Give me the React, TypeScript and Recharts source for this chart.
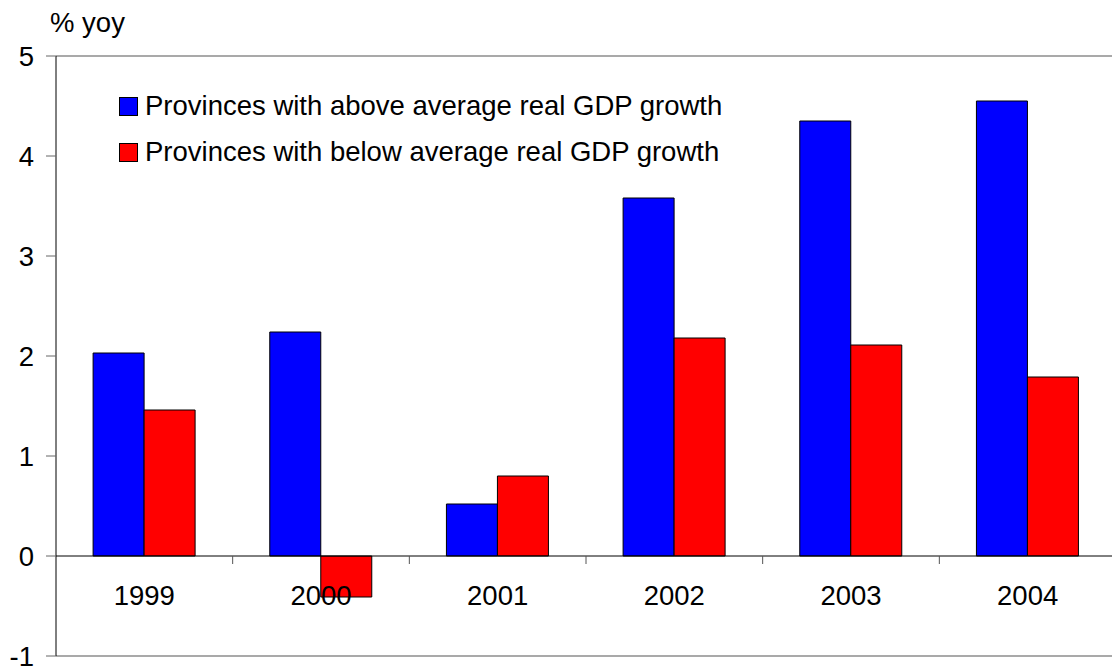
import { BarChart, Bar, XAxis, YAxis, ReferenceLine, Legend, Label } from "recharts";

const years = ["1999", "2000", "2001", "2002", "2003", "2004"];
const aboveAvg = [2.03, 2.24, 0.52, 3.58, 4.35, 4.55];
const belowAvg = [1.46, -0.41, 0.8, 2.18, 2.11, 1.79];
const yTicks = [-1, 0, 1, 2, 3, 4, 5];
const seriesNames = [
  "Provinces with above average real GDP growth",
  "Provinces with below average real GDP growth",
];
const colors = ["#0000ff", "#ff0000"];

const FONT = "Arial, 'Liberation Sans', sans-serif";
const FS = 27.5;

const W = 1130;
const H = 670;
const M = { top: 56, right: 14, bottom: 13, left: 0 };
const Y_AXIS_W = 56;
const X_AXIS_H = 1;
const PLOT_W = W - M.left - M.right - Y_AXIS_W;
const PLOT_H = H - M.top - M.bottom - X_AXIS_H;
const Y_MIN = -1;
const Y_MAX = 5;

const data = years.map((year, i) => ({ year, above: aboveAvg[i], below: belowAvg[i] }));

// x labels and the between-category ticks sit on the zero line, not at the bottom
function XTick({ x, payload }: any) {
  const zeroY = M.top + (PLOT_H * Y_MAX) / (Y_MAX - Y_MIN);
  const band = PLOT_W / years.length;
  return (
    <g>
      <line x1={x + band / 2} x2={x + band / 2} y1={zeroY} y2={zeroY + 8} stroke="#555" />
      <text x={x} y={zeroY + 39} dy="0.355em" textAnchor="middle" fill="#000" fontSize={FS} fontFamily={FONT}>
        {payload.value}
      </text>
    </g>
  );
}

function LegendBox() {
  return (
    <div style={{ fontFamily: FONT, fontSize: FS, color: "#000" }}>
      {seriesNames.map((n, i) => (
        <div key={n} style={{ display: "flex", alignItems: "center", height: 46, whiteSpace: "nowrap" }}>
          <span
            style={{
              display: "inline-block",
              width: 17,
              height: 17,
              background: colors[i],
              border: "1px solid #000",
              marginRight: 7,
            }}
          />
          <span>{n}</span>
        </div>
      ))}
    </div>
  );
}

export default function App() {
  return (
    <div style={{ position: "absolute", left: 0, top: 0, width: 1112, height: 670, overflow: "hidden", background: "#fff" }}>
      <BarChart
        width={W}
        height={H}
        data={data}
        margin={M}
        barCategoryGap="21%"
        barGap={0}
      >
        <YAxis
          type="number"
          domain={[Y_MIN, Y_MAX]}
          ticks={yTicks}
          interval={0}
          width={Y_AXIS_W}
          tickSize={10}
          tickMargin={12}
          axisLine={{ stroke: "#000" }}
          tickLine={{ stroke: "#666" }}
          tick={{ fill: "#000", fontSize: FS, fontFamily: FONT }}
        >
          <Label
            content={({ viewBox }: any) => (
              <text x={viewBox.x + 50} y={viewBox.y - 24} fill="#000" fontSize={FS} fontFamily={FONT}>
                % yoy
              </text>
            )}
          />
        </YAxis>
        <ReferenceLine y={Y_MAX} stroke="#8c8c8c" strokeWidth={1.5} />
        <ReferenceLine y={Y_MIN} stroke="#8c8c8c" strokeWidth={1.5} />
        <Bar dataKey="above" name={seriesNames[0]} fill={colors[0]} stroke="#000" strokeWidth={1} isAnimationActive={false} />
        <Bar dataKey="below" name={seriesNames[1]} fill={colors[1]} stroke="#000" strokeWidth={1} isAnimationActive={false} />
        <ReferenceLine y={0} stroke="#000" />
        <XAxis
          dataKey="year"
          height={X_AXIS_H}
          axisLine={false}
          tickLine={false}
          interval={0}
          tick={<XTick />}
        />
        <Legend
          layout="vertical"
          align="center"
          verticalAlign="middle"
          content={<LegendBox />}
          wrapperStyle={{ left: 119, top: 83, width: "auto" }}
        />
      </BarChart>
    </div>
  );
}
